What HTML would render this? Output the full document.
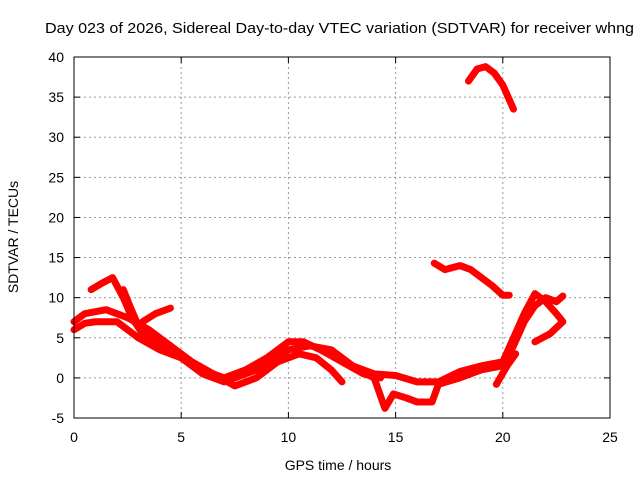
<!DOCTYPE html>
<html><head><meta charset="utf-8"><style>
body{margin:0;background:#fff}
svg text{font-family:"Liberation Sans",sans-serif;font-size:14px;fill:#000}
</style></head><body>
<svg id="c" width="640" height="480">
<text x="45" y="33" textLength="589" lengthAdjust="spacingAndGlyphs" style="font-size:15px">Day 023 of 2026, Sidereal Day-to-day VTEC variation (SDTVAR) for receiver whng</text>
<text x="338" y="470" text-anchor="middle">GPS time / hours</text>
<text transform="translate(18,237) rotate(-90)" text-anchor="middle">SDTVAR / TECUs</text>
<g id="grid"></g><g id="ticks"></g><g id="series"></g>
<rect x="74" y="57" width="536" height="361" fill="none" stroke="#000" stroke-width="1"/>
</svg>
<script>
const xTicks=[0,5,10,15,20,25];
const yTicks=[-5,0,5,10,15,20,25,30,35,40];
const seriesA=[[0.8,11],[1.3,11.8],[1.8,12.5],[2.3,10],[2.7,7.5],[3.2,5.5],[4,4],[5,2.5],[6,1],[7,0],[8,1],[9,2.5],[10,4.5],[10.7,4.5],[11.5,3.5],[12.5,2],[13.5,0.5],[14.3,0]];
const seriesB=[[0,7],[0.5,8],[1.5,8.5],[2.5,7.5],[3.5,6],[4.5,4],[5.5,2],[6.5,0.5],[7.5,-1],[8.5,0],[9.5,2],[10.5,3],[11.3,2.5],[12,1],[12.5,-0.5]];
const seriesC=[[0,6],[0.5,6.8],[1,7],[2,7],[3,5],[4,3.5],[5,2.5],[6,0.5],[7,-0.5],[8,0.5],[9,1.5],[10,3.5],[11,4],[12,3.5],[13,1.5],[14,0.5],[15,0.3],[16,-0.5],[17,-0.5],[18,0.8],[19,1.5],[20,2],[20.5,5],[21,8],[21.5,10.5],[22,9.5],[22.5,8],[22.8,7],[22.2,5.5],[21.5,4.5]];
const seriesD=[[2.3,11],[2.6,9],[3,6.5],[3.6,5],[4.5,3]];
const seriesE=[[3.2,7],[3.8,8],[4.5,8.7]];
const seriesF=[[12.5,2],[13.2,1],[14,0],[14.5,-3.8],[14.9,-2],[15.5,-2.5],[16,-3],[16.7,-3],[17,-0.8],[18,0],[19,1],[20,1.5],[20.5,4],[21,7],[21.5,9],[22,10],[22.5,9.5],[22.8,10.2]];
const seriesG=[[19.7,-0.8],[20.2,1.5],[20.6,3]];
const seriesH=[[16.8,14.3],[17.3,13.5],[18,14],[18.5,13.5],[19,12.5],[19.5,11.5],[20,10.3],[20.3,10.3]];
const seriesI=[[18.4,37],[18.8,38.5],[19.2,38.8],[19.6,38],[20,36.5],[20.5,33.5]];
const allSeries=[seriesA,seriesB,seriesC,seriesD,seriesE,seriesF,seriesG,seriesH,seriesI];
const NS='http://www.w3.org/2000/svg';
function X(h){return 74+h*536/25;}
function Y(v){return 418-(v+5)*361/45;}
function mk(t,p,a){const e=document.createElementNS(NS,t);for(const k in a)e.setAttribute(k,a[k]);p.appendChild(e);return e;}
const grid=document.getElementById('grid'),ticks=document.getElementById('ticks'),ser=document.getElementById('series');
xTicks.forEach(t=>{const x=X(t);
 if(t>0&&t<25){const g=mk('line',grid,{x1:x,x2:x,y1:57,y2:418,stroke:'#999','stroke-dasharray':'2,3'});
 
 }
 mk('line',ticks,{x1:x,x2:x,y1:418,y2:412,stroke:'#000'});mk('line',ticks,{x1:x,x2:x,y1:57,y2:63,stroke:'#000'});
 const l=mk('text',ticks,{x:x,y:442,'text-anchor':'middle'});l.textContent=t;
 
 });
yTicks.forEach(t=>{const y=Y(t);
 if(t>-5&&t<40){const g=mk('line',grid,{x1:74,x2:610,y1:y,y2:y,stroke:'#999','stroke-dasharray':'2,3'});
 
 }
 mk('line',ticks,{x1:74,x2:80,y1:y,y2:y,stroke:'#000'});mk('line',ticks,{x1:610,x2:604,y1:y,y2:y,stroke:'#000'});
 const l=mk('text',ticks,{x:64,y:y+5,'text-anchor':'end'});l.textContent=t;
 
 });
allSeries.forEach((s,i)=>{const p=mk('polyline',ser,{points:s.map(d=>X(d[0])+','+Y(d[1])).join(' '),fill:'none',stroke:'#f00','stroke-width':7,'stroke-linejoin':'round','stroke-linecap':'round'});
 
 });
</script>
</body></html>
